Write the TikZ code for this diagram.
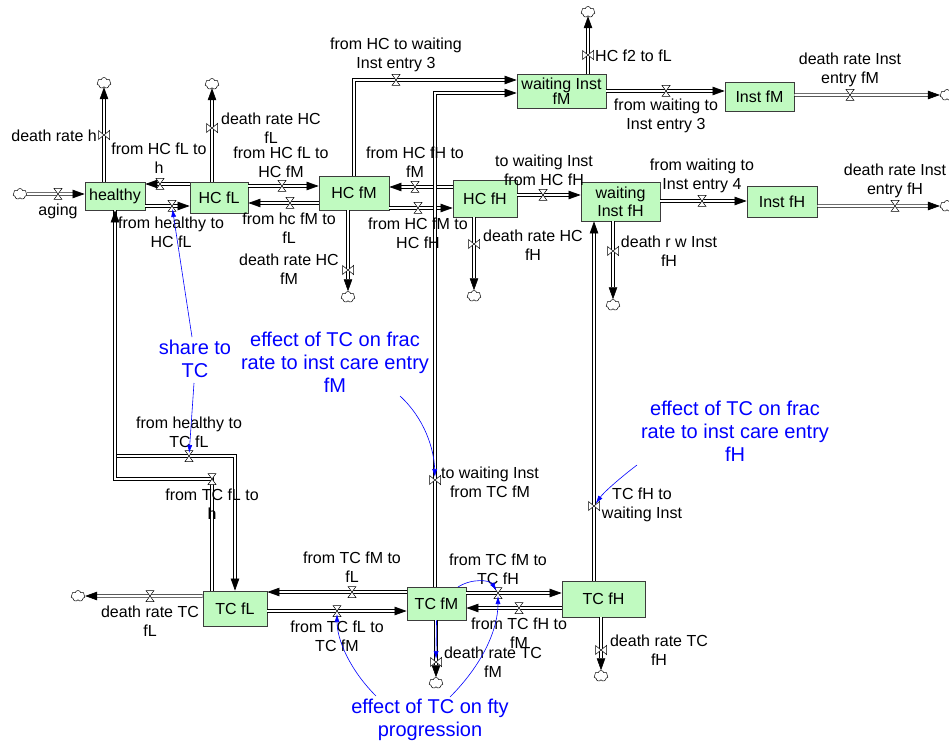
\documentclass[tikz,border=0pt]{standalone}
\usepackage{fontspec}
\setmainfont{Liberation Sans}
\usetikzlibrary{arrows.meta,shapes.symbols}
\definecolor{stockfill}{RGB}{192,250,192}
\definecolor{stockline}{RGB}{60,60,60}
\begin{document}
\begin{tikzpicture}[x=1pt,y=-1pt,
 stock/.style={draw=stockline, line width=0.8pt, fill=stockfill, inner sep=0pt, font=\fontsize{16}{17}\selectfont, align=center},
 lbl/.style={font=\fontsize{16}{19}\selectfont, align=center, inner sep=0pt},
 blbl/.style={font=\fontsize{20}{23}\selectfont, align=center, text=blue, inner sep=0pt},
 pipe/.style={draw=black, double=white, double distance=2pt, line width=0.6pt, -{Triangle[length=12pt,width=8.5pt]}},
 link/.style={draw=blue, line width=0.6pt, -{Latex[length=8pt,width=5pt]}, shorten >=3pt},
 cld/.style={cloud, cloud puffs=7, draw, line width=0.5pt, minimum width=14pt, minimum height=11pt, inner sep=0pt},
 hv/.pic={\draw[fill=white, line width=0.5pt] (-4,-5.5) -- (4,-5.5) -- (-4,5.5) -- (4,5.5) -- cycle;},
 vv/.pic={\draw[fill=white, line width=0.5pt] (-5.5,-4.5) -- (-5.5,4.5) -- (5.5,-4.5) -- (5.5,4.5) -- cycle;}
]
\useasboundingbox (0,0) rectangle (949,743);
% stocks
\node[stock, minimum width=60pt, minimum height=28pt] (healthy) at (115,196) {healthy};
\node[stock, minimum width=58pt, minimum height=31pt] (hcfL) at (219,197.5) {HC fL};
\node[stock, minimum width=70pt, minimum height=34pt] (hcfM) at (354,193) {HC fM};
\node[stock, minimum width=64pt, minimum height=37pt] (hcfH) at (485,198.5) {HC fH};
\node[stock, minimum width=89pt, minimum height=34pt, font=\fontsize{16}{15}\selectfont] (wifM) at (561.5,91) {waiting Inst\\fM};
\node[stock, minimum width=69pt, minimum height=29pt] (ifM) at (759.5,96.5) {Inst fM};
\node[stock, minimum width=79pt, minimum height=39pt, font=\fontsize{16}{18}\selectfont] (wifH) at (620.5,201.5) {waiting\\Inst fH};
\node[stock, minimum width=70pt, minimum height=31pt] (ifH) at (782,201.5) {Inst fH};
\node[stock, minimum width=64pt, minimum height=35pt] (tcfL) at (235,608.5) {TC fL};
\node[stock, minimum width=59pt, minimum height=33pt] (tcfM) at (436.5,603.5) {TC fM};
\node[stock, minimum width=83pt, minimum height=36pt] (tcfH) at (603.5,599) {TC fH};
% clouds
\node[cld] (c1) at (20,194) {};
\node[cld] (c2) at (104,83) {};
\node[cld] (c5) at (212,84) {};
\node[cld] (c8) at (348,297) {};
\node[cld] (c12) at (474,296) {};
\node[cld] (c14) at (588,12) {};
\node[cld] (c16) at (947,95) {};
\node[cld] (c18) at (947,206) {};
\node[cld] (c19) at (613,305) {};
\node[cld] (c24) at (78,596) {};
\node[cld] (c27) at (436,683) {};
\node[cld] (c30) at (601,676) {};
% valve positions
\coordinate (v1) at (58,194);
\coordinate (v2) at (104,135);
\coordinate (v3) at (160,184);
\coordinate (v4) at (172,206);
\coordinate (v5) at (212,128);
\coordinate (v6) at (282,186);
\coordinate (v7) at (290,203);
\coordinate (v8) at (348,270);
\coordinate (v9) at (396,80);
\coordinate (k9) at (354,80);
\coordinate (v10) at (415,187);
\coordinate (v11) at (418,208);
\coordinate (v12) at (474,244);
\coordinate (v13) at (543,195);
\coordinate (v14) at (588,55);
\coordinate (v15) at (666,91);
\coordinate (v16) at (850,95);
\coordinate (v17) at (702,201);
\coordinate (v18) at (895,206);
\coordinate (v19) at (613,251);
\coordinate (v20) at (594,506);
\coordinate (v21) at (435,480);
\coordinate (k21) at (435,93);
\coordinate (v22) at (189,456);
\coordinate (k22a) at (115,456);
\coordinate (k22b) at (235,456);
\coordinate (v23) at (212,479);
\coordinate (k23) at (115,479);
\coordinate (v24) at (150,596);
\coordinate (v25) at (352,592);
\coordinate (v26) at (337,611);
\coordinate (v27) at (436,662);
\coordinate (v28) at (498,593);
\coordinate (v29) at (519,608);
\coordinate (v30) at (601,650);
% pipes
\draw[pipe] (c1) -- (healthy.west |- v1);
\draw[pipe] (healthy.north -| v2) -- (c2);
\draw[pipe] (hcfL.west |- v3) -- (healthy.east |- v3);
\draw[pipe] (healthy.east |- v4) -- (hcfL.west |- v4);
\draw[pipe] (hcfL.north -| v5) -- (c5);
\draw[pipe] (hcfL.east |- v6) -- (hcfM.west |- v6);
\draw[pipe] (hcfM.west |- v7) -- (hcfL.east |- v7);
\draw[pipe] (hcfM.south -| v8) -- (c8);
\draw[pipe] (hcfM.north -| k9) -- (k9) -- (wifM.west |- k9);
\draw[pipe] (hcfH.west |- v10) -- (hcfM.east |- v10);
\draw[pipe] (hcfM.east |- v11) -- (hcfH.west |- v11);
\draw[pipe] (hcfH.south -| v12) -- (c12);
\draw[pipe] (hcfH.east |- v13) -- (wifH.west |- v13);
\draw[pipe] (wifM.north -| v14) -- (c14);
\draw[pipe] (wifM.east |- v15) -- (ifM.west |- v15);
\draw[pipe] (ifM.east |- v16) -- (c16);
\draw[pipe] (wifH.east |- v17) -- (ifH.west |- v17);
\draw[pipe] (ifH.east |- v18) -- (c18);
\draw[pipe] (wifH.south -| v19) -- (c19);
\draw[pipe] (tcfH.north -| v20) -- (wifH.south -| v20);
\draw[pipe] (tcfM.north -| k21) -- (k21) -- (wifM.west |- k21);
\draw[pipe] (healthy.south -| k22a) -- (k22a) -- (k22b) -- (tcfL.north -| k22b);
\draw[pipe] (tcfL.north -| v23) -- (v23) -- (k23) -- (healthy.south -| k23);
\draw[pipe] (tcfL.west |- v24) -- (c24);
\draw[pipe] (tcfM.west |- v25) -- (tcfL.east |- v25);
\draw[pipe] (tcfL.east |- v26) -- (tcfM.west |- v26);
\draw[pipe] (tcfM.south -| v27) -- (c27);
\draw[pipe] (tcfM.east |- v28) -- (tcfH.west |- v28);
\draw[pipe] (tcfH.west |- v29) -- (tcfM.east |- v29);
\draw[pipe] (tcfH.south -| v30) -- (c30);
% valves
\foreach \v in {v1,v3,v4,v6,v7,v9,v10,v11,v13,v15,v16,v17,v18,v22,v23,v24,v25,v26,v28,v29} {\pic at (\v) {hv};}
\foreach \v in {v2,v5,v8,v12,v14,v19,v20,v21,v27,v30} {\pic at (\v) {vv};}
% flow labels
\node[lbl] (l1) at (58,211) {aging};
\node[lbl, anchor=east] (l2) at (97,136) {death rate h};
\node[lbl] (l3) at (159,158) {from HC fL to\\h};
\node[lbl] (l4) at (171,232) {from healthy to\\HC fL};
\node[lbl] (l5) at (271,128) {death rate HC\\fL};
\node[lbl] (l6) at (281,162) {from HC fL to\\HC fM};
\node[lbl] (l7) at (289,228) {from hc fM to\\fL};
\node[lbl] (l8) at (289,269) {death rate HC\\fM};
\node[lbl] (l9) at (396,55) {from HC to waiting\\Inst entry 3};
\node[lbl] (l10) at (415,162) {from HC fH to\\fM};
\node[lbl] (l11) at (418,233) {from HC fM to\\HC fH};
\node[lbl] (l12) at (533,245) {death rate HC\\fH};
\node[lbl] (l13) at (544,170) {to waiting Inst\\from HC fH};
\node[lbl, anchor=west] (l14) at (595,56) {HC f2 to fL};
\node[lbl] (l15) at (666,116) {from waiting to\\Inst entry 3};
\node[lbl] (l16) at (850,70) {death rate Inst\\entry fM};
\node[lbl] (l17) at (702,176) {from waiting to\\Inst entry 4};
\node[lbl] (l18) at (895,181) {death rate Inst\\entry fH};
\node[lbl] (l19) at (669,251) {death r w Inst\\fH};
\node[lbl] (l20) at (642,505) {TC fH to\\waiting Inst};
\node[lbl] (l21) at (490,482) {to waiting Inst\\from TC fM};
\node[lbl] (l22) at (189,432) {from healthy to\\TC fL};
\node[lbl] (l23) at (212,504) {from TC fL to\\h};
\node[lbl] (l24) at (150,621) {death rate TC\\fL};
\node[lbl] (l25) at (352,567) {from TC fM to\\fL};
\node[lbl] (l26) at (337,636) {from TC fL to\\TC fM};
\node[lbl] (l27) at (493,662) {death rate TC\\fM};
\node[lbl] (l28) at (498,569) {from TC fM to\\TC fH};
\node[lbl] (l29) at (519,633) {from TC fH to\\fM};
\node[lbl] (l30) at (659,650) {death rate TC\\fH};
% auxiliaries
\node[blbl] (share) at (195,359) {share to\\TC};
\node[blbl] (effM) at (335,362) {effect of TC on frac\\rate to inst care entry\\fM};
\node[blbl] (effH) at (735,431) {effect of TC on frac\\rate to inst care entry\\fH};
\node[blbl] (effP) at (430,720) {effect of TC on fty\\progression};
% links
\coordinate (s1) at (192,337);
\coordinate (s2) at (194,383);
\coordinate (m1) at (400,396);
\coordinate (h1) at (637,465);
\coordinate (p1) at (376,696);
\coordinate (p2) at (450,697);
\coordinate (t1) at (458,587);
\draw[link] (s1) -- (v4);
\draw[link] (s2) -- (v22);
\draw[link] (m1) .. controls (424,418) and (434,448) .. (v21);
\draw[link] (h1) .. controls (620,478) and (604,492) .. (v20);
\draw[link] (p1) .. controls (350,670) and (337,640) .. (v26);
\draw[link] (p2) .. controls (482,665) and (498,630) .. (v28);
\draw[link] (t1) .. controls (472,578) and (490,580) .. (v28);
\draw[link] (tcfM.south) -- (v27);
\end{tikzpicture}
\end{document}
